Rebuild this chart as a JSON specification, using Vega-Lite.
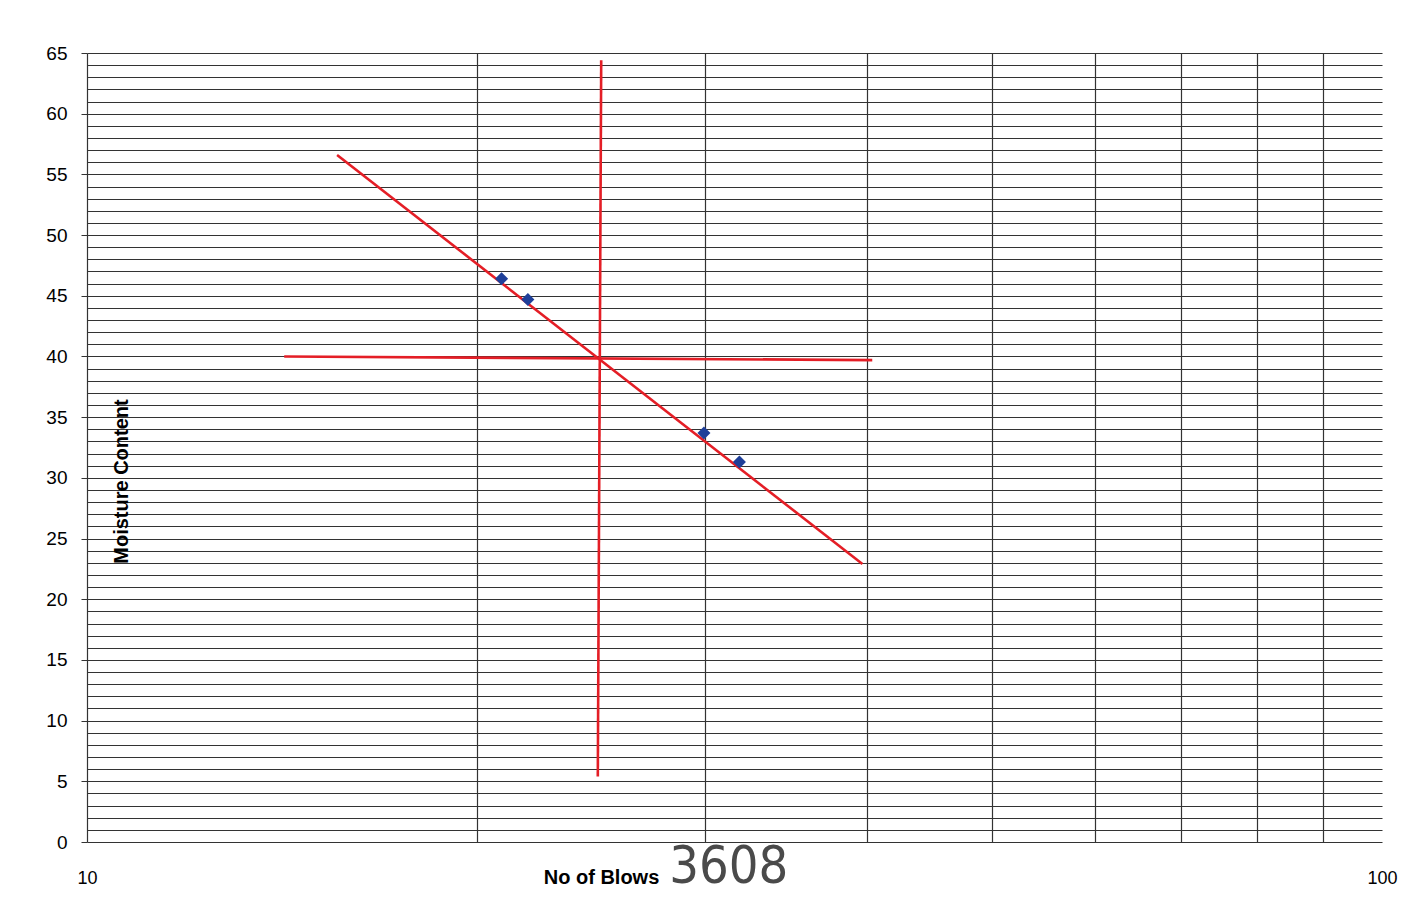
{
  "$schema": "https://vega.github.io/schema/vega-lite/v6.json",
  "width": 1295,
  "height": 789,
  "autosize": {"type": "none"},
  "padding": {"left": 87, "top": 53, "right": 43, "bottom": 59},
  "background": "white",
  "config": {
    "view": {"stroke": null},
    "font": "Liberation Sans"
  },
  "datasets": {
    "points": [
      {"blows": 20.9, "moisture": 46.4},
      {"blows": 21.9, "moisture": 44.7},
      {"blows": 29.95, "moisture": 33.7},
      {"blows": 31.9, "moisture": 31.3}
    ],
    "lines": [
      {"line": "trend", "ord": 1, "blows": 15.6, "moisture": 56.6},
      {"line": "trend", "ord": 2, "blows": 39.7, "moisture": 22.9},
      {"line": "horizontal", "ord": 1, "blows": 14.2, "moisture": 40.0},
      {"line": "horizontal", "ord": 2, "blows": 40.4, "moisture": 39.7},
      {"line": "vertical", "ord": 1, "blows": 24.95, "moisture": 64.4},
      {"line": "vertical", "ord": 2, "blows": 24.8, "moisture": 5.4}
    ],
    "stamp": [
      {"blows": 31.3, "moisture": -2.1, "label": "3608"}
    ]
  },
  "layer": [
    {
      "data": {"name": "lines"},
      "mark": {"type": "line", "color": "#e41e26", "strokeWidth": 2.6},
      "encoding": {
        "x": {
          "field": "blows", "type": "quantitative",
          "scale": {"type": "log", "domain": [10, 100], "nice": false},
          "axis": {
            "title": "No of Blows",
            "titleFontSize": 20,
            "titleFontWeight": "bold",
            "titleColor": "black",
            "titleX": 514,
            "titleY": 35,
            "titleBaseline": "middle",
            "titleAnchor": null,
            "values": [10, 20, 30, 40, 50, 60, 70, 80, 90, 100],
            "tickCount": 100,
            "labelExpr": "datum.value == 10 || datum.value == 100 ? datum.value : ''",
            "labelFontSize": 18,
            "labelColor": "black",
            "labelPadding": 27,
            "labelFlush": false,
            "labelOverlap": false,
            "domain": false,
            "ticks": false,
            "grid": true,
            "gridColor": "#333333",
            "gridWidth": 1.2,
            "gridOpacity": {"condition": {"test": "datum.value == 100 || datum.value == 10", "value": 0}, "value": 1}
          }
        },
        "y": {
          "field": "moisture", "type": "quantitative",
          "scale": {"domain": [0, 65], "nice": false},
          "axis": {
            "title": "Moisture Content",
            "titleFontSize": 20,
            "titleFontWeight": "bold",
            "titleColor": "black",
            "titleX": 34,
            "titleY": 428,
            "titleBaseline": "middle",
            "titleAnchor": null,
            "values": [0,1,2,3,4,5,6,7,8,9,10,11,12,13,14,15,16,17,18,19,20,21,22,23,24,25,26,27,28,29,30,31,32,33,34,35,36,37,38,39,40,41,42,43,44,45,46,47,48,49,50,51,52,53,54,55,56,57,58,59,60,61,62,63,64,65],
            "tickCount": 200,
            "labelExpr": "datum.value % 5 == 0 ? datum.value : ''",
            "labelFontSize": 19,
            "labelColor": "black",
            "labelPadding": 14,
            "labelOverlap": false,
            "labelFlush": false,
            "domain": true,
            "domainColor": "#333333",
            "domainWidth": 1.2,
            "tickSize": 6,
            "tickColor": "#333333",
            "tickOpacity": {"condition": {"test": "datum.value % 5 == 0", "value": 1}, "value": 0},
            "grid": true,
            "gridColor": "#333333",
            "gridWidth": 1.2
          }
        },
        "detail": {"field": "line", "type": "nominal"},
        "order": {"field": "ord", "type": "quantitative"}
      }
    },
    {
      "data": {"name": "points"},
      "mark": {"type": "point", "shape": "diamond", "filled": true, "color": "#1f3f99", "size": 170, "opacity": 1},
      "encoding": {
        "x": {"field": "blows", "type": "quantitative"},
        "y": {"field": "moisture", "type": "quantitative"}
      }
    },
    {
      "data": {"name": "stamp"},
      "mark": {"type": "text", "font": "DejaVu Sans Condensed", "fontSize": 52, "color": "#4a4a4a", "baseline": "middle", "align": "center", "clip": false},
      "encoding": {
        "x": {"field": "blows", "type": "quantitative"},
        "y": {"field": "moisture", "type": "quantitative"},
        "text": {"field": "label", "type": "nominal"}
      }
    }
  ]
}
